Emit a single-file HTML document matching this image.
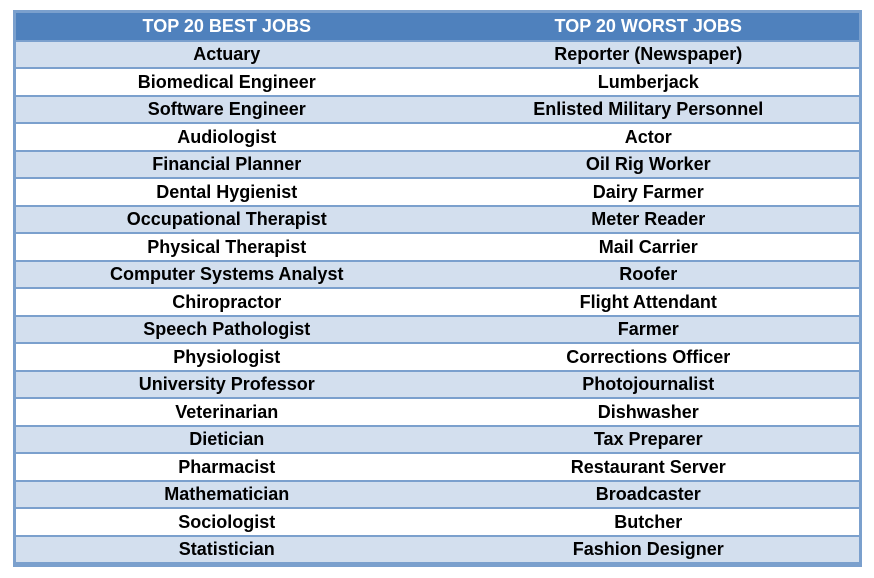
<!DOCTYPE html>
<html><head><meta charset="utf-8"><style>
body{margin:0;width:874px;height:578px;background:#fff;position:relative;overflow:hidden;font-family:"Liberation Sans",sans-serif;}
#tbl{position:absolute;left:13px;top:10px;width:843px;height:551px;border:3px solid #7BA0CD;background:#7BA0CD;}
.row{position:absolute;left:0;width:843px;display:flex;font-weight:bold;font-size:18px;color:#000;align-items:center;}
.row div{flex:1;text-align:center;white-space:nowrap;}
.hdr{background:#4F81BD;color:#fff;font-size:18px;}
.a{background:#D3DFEE;}.b{background:#fff;}
</style></head><body>
<div id="tbl"></div>
<script>
const best=["Actuary","Biomedical Engineer","Software Engineer","Audiologist","Financial Planner","Dental Hygienist","Occupational Therapist","Physical Therapist","Computer Systems Analyst","Chiropractor","Speech Pathologist","Physiologist","University Professor","Veterinarian","Dietician","Pharmacist","Mathematician","Sociologist","Statistician"];
const worst=["Reporter (Newspaper)","Lumberjack","Enlisted Military Personnel","Actor","Oil Rig Worker","Dairy Farmer","Meter Reader","Mail Carrier","Roofer","Flight Attendant","Farmer","Corrections Officer","Photojournalist","Dishwasher","Tax Preparer","Restaurant Server","Broadcaster","Butcher","Fashion Designer"];
const t=document.getElementById('tbl');
function mk(cls,top,h,l,r,name){
 const d=document.createElement('div');
 d.className='row '+cls;
 d.style.top=top+'px';d.style.height=h+'px';
 
 
 const c1=document.createElement('div');c1.textContent=l;
 
 
 const c2=document.createElement('div');c2.textContent=r;
 
 
 d.appendChild(c1);d.appendChild(c2);t.appendChild(d);
}
mk('hdr',0,27,'TOP 20 BEST JOBS','TOP 20 WORST JOBS','header-row');
const rh=(551-29)/19;
for(let i=0;i<19;i++){
 const top=29+i*rh;
 mk(i%2?'b':'a',Math.round(top),Math.round(top+rh)-Math.round(top)-2,best[i],worst[i],'job-row');
}
</script>
</body></html>
